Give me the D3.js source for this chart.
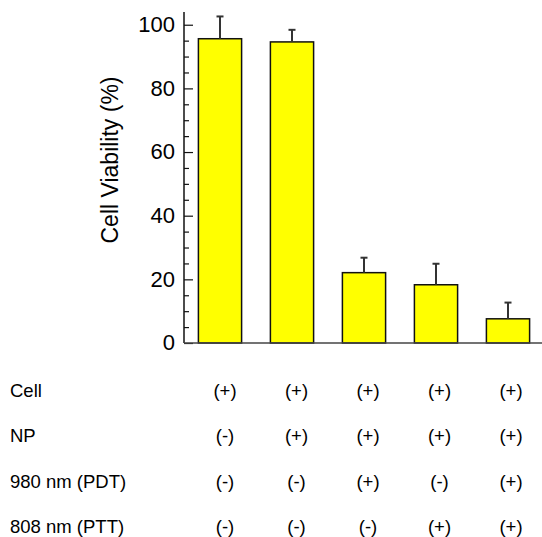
<!DOCTYPE html>
<html>
<head>
<meta charset="utf-8">
<script src="https://cdn.jsdelivr.net/npm/d3@7"></script>
<style>
  html, body { margin: 0; padding: 0; background: #fff; }
  svg { display: block; font-family: Arial, "Liberation Sans", sans-serif; }
</style>
</head>
<body>
<div id="chart"></div>
<script>
// Cell viability per treatment group
const groups = ['G1', 'G2', 'G3', 'G4', 'G5'];
const viability = [95.6, 94.6, 22.1, 18.3, 7.6];
const errors = [7.0, 3.8, 4.7, 6.6, 5.1];
const yTicks = [0, 20, 40, 60, 80, 100];

// Treatment table under the chart
const rowLabels = ['Cell', 'NP', '980 nm (PDT)', '808 nm (PTT)'];
const cellRow = ['(+)', '(+)', '(+)', '(+)', '(+)'];
const npRow = ['(-)', '(+)', '(+)', '(+)', '(+)'];
const pdtRow = ['(-)', '(-)', '(+)', '(-)', '(+)'];
const pttRow = ['(-)', '(-)', '(-)', '(+)', '(+)'];
const tableRows = [cellRow, npRow, pdtRow, pttRow];

const W = 542, H = 537;
const axisX = 184, baseY = 343, topY = 12;

const svg = d3.select('#chart').append('svg')
  .attr('width', W).attr('height', H);

const x = d3.scaleBand().domain(groups).range([axisX, 544])
  .paddingInner(0.4).paddingOuter(0.2);
const y = d3.scaleLinear().domain([0, 104]).range([baseY, topY]);

// Bars
svg.append('g').selectAll('rect')
  .data(viability)
  .join('rect')
  .attr('x', (d, i) => x(groups[i]))
  .attr('y', d => y(d))
  .attr('width', x.bandwidth())
  .attr('height', d => y(0) - y(d))
  .attr('fill', '#ffff00')
  .attr('stroke', '#111')
  .attr('stroke-width', 1.5);

// Error bars (upper only)
const eb = svg.append('g').attr('stroke', '#333').attr('stroke-width', 2);
viability.forEach((v, i) => {
  const cx = x(groups[i]) + x.bandwidth() / 2;
  eb.append('line')
    .attr('x1', cx).attr('x2', cx)
    .attr('y1', y(v)).attr('y2', y(v + errors[i]));
  eb.append('line')
    .attr('x1', cx - 3.5).attr('x2', cx + 3.5)
    .attr('y1', y(v + errors[i])).attr('y2', y(v + errors[i]));
});

// Left axis, ticks pointing inward
const yAxis = svg.append('g').attr('transform', `translate(${axisX},0)`);
yAxis.call(d3.axisRight(y).tickValues(d3.range(0, 101, 5)).tickSize(5).tickFormat(''));
yAxis.selectAll('.tick line')
  .attr('x2', d => d % 20 === 0 ? 9 : 5)
  .attr('stroke', '#111').attr('stroke-width', 1.2);
yAxis.select('.domain').remove();
svg.append('line')
  .attr('x1', axisX).attr('x2', axisX)
  .attr('y1', y(0)).attr('y2', topY)
  .attr('stroke', '#111').attr('stroke-width', 1.5);

svg.append('g').selectAll('text')
  .data(yTicks)
  .join('text')
  .attr('x', 175)
  .attr('y', d => y(d))
  .attr('dy', '0.33em')
  .attr('text-anchor', 'end')
  .attr('font-size', '22px')
  .attr('fill', '#000')
  .text(d => d);

// Bottom axis line
svg.append('line')
  .attr('x1', axisX).attr('x2', W)
  .attr('y1', baseY).attr('y2', baseY)
  .attr('stroke', '#444').attr('stroke-width', 1.5);

// Y axis title
svg.append('text')
  .attr('transform', 'translate(118,160) rotate(-90)')
  .attr('text-anchor', 'middle')
  .attr('font-size', '23px')
  .attr('fill', '#000')
  .text('Cell Viability (%)');

// Table
const colX = d3.scalePoint().domain(groups).range([225, 511]);
const rowY = d3.scalePoint().domain(rowLabels).range([397, 533]);

svg.append('g').selectAll('text')
  .data(rowLabels)
  .join('text')
  .attr('x', 10)
  .attr('y', d => rowY(d))
  .attr('font-size', '18.5px')
  .attr('fill', '#000')
  .text(d => d);

tableRows.forEach((row, r) => {
  svg.append('g').selectAll('text')
    .data(row)
    .join('text')
    .attr('x', (d, i) => colX(groups[i]))
    .attr('y', rowY(rowLabels[r]))
    .attr('text-anchor', 'middle')
    .attr('font-size', '18.5px')
    .attr('fill', '#000')
    .text(d => d);
});
</script>
</body>
</html>
